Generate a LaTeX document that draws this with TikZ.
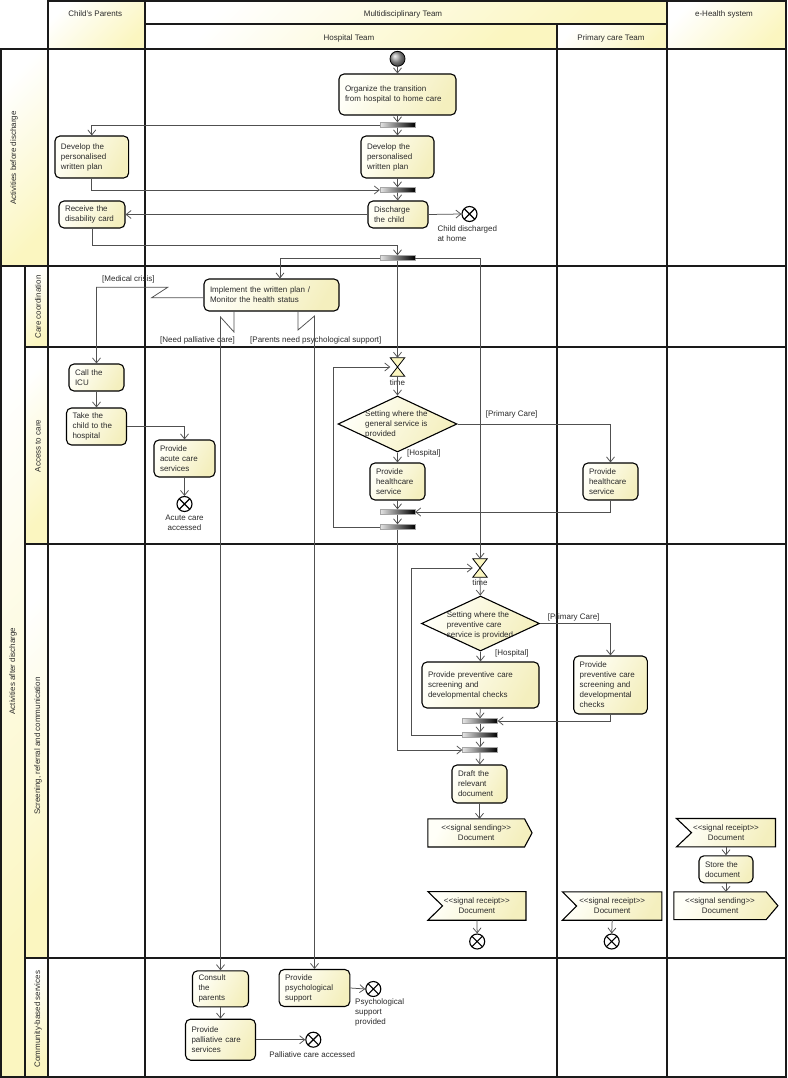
\documentclass[tikz,border=0pt]{standalone}
\usepackage{fontspec}
\setmainfont{Liberation Sans}
\usetikzlibrary{arrows.meta,shapes.geometric,backgrounds,calc}
\definecolor{txt}{HTML}{2B2B2B}
\definecolor{flowc}{HTML}{505050}
\definecolor{lanec}{HTML}{1A1A1A}
\definecolor{hy}{HTML}{FBF6C0}
\definecolor{ay}{HTML}{F4EFBE}
\definecolor{ayl}{HTML}{FFFFF8}
\tikzset{
  base/.style={font=\fontsize{8}{10}\selectfont, text=txt},
  act/.style={base, draw=black, line width=1.1pt, rounded corners=5pt, align=left, inner xsep=6pt, inner ysep=1pt, left color=ayl, right color=ay, shading angle=60},
  bar/.style={draw=gray!70, line width=0.3pt, minimum width=35pt, minimum height=5pt, inner sep=0pt, left color=gray!20, right color=black},
  flow/.style={draw=flowc, line width=0.75pt, -{Straight Barb[length=5pt,width=8pt]}},
  ffinal/.style={circle, draw=black, line width=1.1pt, fill=white, minimum size=15pt, inner sep=0pt,
    path picture={\draw[line width=1.1pt] (path picture bounding box.south west) -- (path picture bounding box.north east) (path picture bounding box.north west) -- (path picture bounding box.south east);}},
  lbl/.style={base, inner sep=0pt},
  hdr/.style={draw=lanec, line width=1.2pt, left color=white, right color=hy, shading angle=45},
  lane/.style={draw=lanec, line width=1.2pt},
  sig/.style={base, align=center, inner sep=0pt},
  sigshape/.style={draw=black, line width=1.1pt, left color=ayl, right color=ay, shading angle=60},
  dec/.style={diamond, draw=black, line width=1.1pt, inner sep=0pt, left color=ayl, right color=ay, shading angle=60},
  hg/.style={inner sep=0pt, minimum width=14pt, minimum height=18pt},
  hgshape/.style={draw=black, line width=0.8pt, fill=hy},
}
\begin{document}
\begin{tikzpicture}[x=1pt,y=-1pt]
\useasboundingbox (0,0) rectangle (787,1078);
\begin{scope}[on background layer]
\fill[white] (0,0) rectangle (787,1078);
\end{scope}

% ---------- swimlane frame ----------
\draw[hdr] (48,1) rectangle (145,49);
\draw[hdr] (145,1) rectangle (667,24);
\draw[hdr] (145,24) rectangle (557,49);
\draw[hdr] (557,24) rectangle (667,49);
\draw[hdr] (667,1) rectangle (786,49);
\draw[hdr] (1,49) rectangle (48,266);
\draw[hdr] (1,266) rectangle (25,1077);
\draw[hdr] (25,266) rectangle (48,347);
\draw[hdr] (25,347) rectangle (48,544);
\draw[hdr] (25,544) rectangle (48,958);
\draw[hdr] (25,958) rectangle (48,1077);
\draw[lane] (48,49) rectangle (786,1077);
\draw[lane] (145,49) -- (145,1077);
\draw[lane] (557,49) -- (557,1077);
\draw[lane] (667,49) -- (667,1077);
\draw[lane] (48,266) -- (786,266);
\draw[lane] (48,347) -- (786,347);
\draw[lane] (48,544) -- (786,544);
\draw[lane] (48,958) -- (786,958);

\node[lbl] (hpar) at (95.2,14) {Child's Parents};
\node[lbl] (hmul) at (403,14) {Multidisciplinary Team};
\node[lbl] (hhos) at (349,38) {Hospital Team};
\node[lbl] (hpri) at (611,38) {Primary care Team};
\node[lbl] (heh) at (724,14) {e-Health system};
\node[lbl, rotate=90] (rbef) at (14,158) {Activities before discharge};
\node[lbl, rotate=90] (raft) at (13,671) {Activities after discharge};
\node[lbl, rotate=90] (rcc) at (38,307) {Care coordination};
\node[lbl, rotate=90] (rac) at (38,446) {Access to care};
\node[lbl, rotate=90] (rscr) at (38,746) {Screening, referral and communication};
\node[lbl, rotate=90] (rcom) at (38,1019) {Community-based services};

% ---------- before discharge ----------
\node[circle, minimum size=15pt, inner sep=0pt, draw=black, line width=0.8pt, ball color=gray!75] (init) at (397.5,58.8) {};
\node[act, text width=105pt, minimum height=41pt] (org) at (397.5,94.5) {Organize the transition\\from hospital to home care};
\node[bar] (b1) at (397.5,125) {};
\node[act, text width=61.7pt, minimum height=42pt] (pdev) at (91.8,157) {Develop the\\personalised\\written plan};
\node[act, text width=61pt, minimum height=42pt] (hdev) at (397.5,157) {Develop the\\personalised\\written plan};
\node[bar] (b2) at (397.5,190) {};
\node[act, text width=54pt, minimum height=27pt] (recv) at (92,214.5) {Receive the\\disability card};
\node[act, text width=48pt, minimum height=27pt] (disc) at (398,214.5) {Discharge\\the child};
\node[ffinal] (f1) at (469.5,214) {};
\node[lbl, anchor=west, align=left] (lf1) at (437.3,234) {Child discharged\\at home};
\node[bar] (b3) at (397.5,258) {};
\coordinate (j3) at (397.5,245);

\draw[flow] (init) -- (org);
\draw[flow] (org) -- (b1);
\draw[flow] (b1.west) -| (pdev.north);
\draw[flow] (b1) -- (hdev);
\draw[flow] (pdev.south) |- (b2.west);
\draw[flow] (hdev) -- (b2);
\draw[flow] (b2) -- (disc);
\draw[flow] (disc.west) -- (recv.east);
\draw[flow] (disc.east) -- (f1.west);
\draw[flow] (recv.south) |- (j3) -- (b3.north);

% ---------- care coordination ----------
\node[act, text width=123pt, minimum height=32pt] (impl) at (271.5,295) {Implement the written plan /\\Monitor the health status};
\coordinate (mc1) at (151.7,297.7);
\coordinate (mc2) at (167.7,287.3);
\coordinate (pc1) at (234,332);
\coordinate (pc2) at (220.5,317);
\coordinate (ps1) at (298,330);
\coordinate (ps2) at (314.5,316);
\node[lbl, anchor=west] (gmc) at (102,279) {[Medical crisis]};
\node[lbl, anchor=west] (gpc) at (160,340) {[Need palliative care]};
\node[lbl, anchor=west] (gps) at (250,340) {[Parents need psychological support]};

% ---------- access to care ----------
\node[act, text width=43pt, minimum height=27pt] (icu) at (96.5,377.5) {Call the\\ICU};
\node[act, text width=48pt, minimum height=37pt] (take) at (96.5,426.5) {Take the\\child to the\\hospital};
\node[act, text width=49pt, minimum height=37pt] (acute) at (184.5,458.5) {Provide\\acute care\\services};
\node[ffinal] (f2) at (184.5,504) {};
\node[lbl, align=center] (lf2) at (184.5,523) {Acute care\\accessed};

\node[hg] (t1) at (397.5,367) {};
\draw[hgshape] (t1.north west) -- (t1.north east) -- (t1.south west) -- (t1.south east) -- cycle;
\node[lbl] (lt1) at (397.5,383) {time};
\node[dec, minimum width=119pt, minimum height=56pt] (d1) at (397.5,424) {};
\node[lbl, anchor=west, align=left] (td1) at (365,424.5) {Setting where the\\general service is\\provided};
\node[lbl, anchor=west] (gpr1) at (485.7,414) {[Primary Care]};
\node[lbl, anchor=west] (gho1) at (407,453) {[Hospital]};
\node[act, text width=43pt, minimum height=37pt] (hhc) at (397.5,481.5) {Provide\\healthcare\\service};
\node[act, text width=43pt, minimum height=37pt] (phc) at (610.5,481.5) {Provide\\healthcare\\service};
\node[bar] (b4) at (397.5,512) {};
\node[bar] (b5) at (397.5,527) {};
\coordinate (l1) at (333,527);

% ---------- screening ----------
\node[hg] (t2) at (480,568) {};
\draw[hgshape] (t2.north west) -- (t2.north east) -- (t2.south west) -- (t2.south east) -- cycle;
\node[lbl] (lt2) at (480,583) {time};
\node[dec, minimum width=118pt, minimum height=55pt] (d2) at (480.5,623.5) {};
\node[lbl, anchor=west, align=left] (td2) at (446.7,625) {Setting where the\\preventive care\\service is provided};
\node[lbl, anchor=west] (gpr2) at (547.7,617.5) {[Primary Care]};
\node[lbl, anchor=west] (gho2) at (495,653) {[Hospital]};
\node[act, text width=105pt, minimum height=46pt] (hprev) at (480.5,685) {Provide preventive care\\screening and\\developmental checks};
\node[act, text width=61.6pt, minimum height=58pt] (pprev) at (610.5,685) {Provide\\preventive care\\screening and\\developmental\\checks};
\node[bar] (b6) at (480,721) {};
\node[bar] (b7) at (480,735) {};
\node[bar] (b8) at (480,750) {};
\coordinate (l2) at (411,735);
\node[act, text width=43pt, minimum height=38pt] (draft) at (479.5,784) {Draft the\\relevant\\document};

\node[sig, minimum width=96.3pt, minimum height=27.7pt] (snd1) at (476.2,832.9) {<{}<signal sending>{}>\\Document};
\node[sig, minimum width=97.7pt, minimum height=28.3pt] (rcv1) at (476.9,905.9) {<{}<signal receipt>{}>\\Document};
\node[sig, minimum width=99pt, minimum height=28pt] (rcv2) at (612.2,906) {<{}<signal receipt>{}>\\Document};
\node[sig, minimum width=98.6pt, minimum height=28pt] (rcv3) at (726,832.7) {<{}<signal receipt>{}>\\Document};
\node[sig, minimum width=92pt, minimum height=27.3pt] (snd3) at (720,905.7) {<{}<signal sending>{}>\\Document};
\begin{scope}[on background layer]
\draw[sigshape] (snd1.north west) -- (snd1.north east) -- ($(snd1.east)+(7.5,0)$) -- (snd1.south east) -- (snd1.south west) -- cycle;
\draw[sigshape] (snd3.north west) -- (snd3.north east) -- ($(snd3.east)+(11.7,0)$) -- (snd3.south east) -- (snd3.south west) -- cycle;
\draw[sigshape] (rcv1.north west) -- (rcv1.north east) -- (rcv1.south east) -- (rcv1.south west) -- ($(rcv1.west)+(14.7,0)$) -- cycle;
\draw[sigshape] (rcv2.north west) -- (rcv2.north east) -- (rcv2.south east) -- (rcv2.south west) -- ($(rcv2.west)+(14,0)$) -- cycle;
\draw[sigshape] (rcv3.north west) -- (rcv3.north east) -- (rcv3.south east) -- (rcv3.south west) -- ($(rcv3.west)+(15,0)$) -- cycle;
\end{scope}
\node[act, text width=42pt, minimum height=27pt] (store) at (726,869.3) {Store the\\document};
\node[ffinal] (f3) at (477.2,941.5) {};
\node[ffinal] (f4) at (611.7,941.5) {};

% ---------- community ----------
\node[act, text width=44pt, minimum height=36pt] (consult) at (220.5,988.8) {Consult\\the\\parents};
\node[act, text width=58pt, minimum height=41pt] (pall) at (220.5,1039.7) {Provide\\palliative care\\services};
\node[act, text width=58.7pt, minimum height=37pt] (psych) at (314.5,988) {Provide\\psychological\\support};
\node[ffinal] (f5) at (313.3,1039.7) {};
\node[ffinal] (f6) at (373.3,989) {};
\node[lbl] (lf5) at (312.3,1054.3) {Palliative care accessed};
\node[lbl, anchor=west, align=left] (lf6) at (355,1012.8) {Psychological\\support\\provided};

% ---------- flows after discharge ----------
\draw[flow] (b3.west) -| ([xshift=8.5pt]impl.north);
\draw[flow] (b3) -- (t1);
\draw[flow] (b3.east) -| (t2.north);
\draw[flow] ([yshift=-2.7pt]impl.west) -- (mc1) -- (mc2) -| (icu.north);
\draw[flow] ([xshift=-37.5pt]impl.south) -- (pc1) -- (pc2) -- (consult.north);
\draw[flow] ([xshift=26.5pt]impl.south) -- (ps1) -- (ps2) -- (psych.north);

\draw[flow] (icu) -- (take);
\draw[flow] (take.east) -| (acute.north);
\draw[flow] (acute) -- (f2);

\draw[flow] (t1) -- (d1);
\draw[flow] (d1.east) -| (phc.north);
\draw[flow] (d1) -- (hhc);
\draw[flow] (hhc) -- (b4);
\draw[flow] (phc.south) |- (b4.east);
\draw[flow] (b4) -- (b5);
\draw[flow] (b5.west) -- (l1) |- (t1.west);
\draw[flow] (b5.south) |- (b8.west);

\draw[flow] (t2) -- (d2);
\draw[flow] (d2.east) -| (pprev.north);
\draw[flow] (d2) -- (hprev);
\draw[flow] (hprev) -- (b6);
\draw[flow] (pprev.south) |- (b6.east);
\draw[flow] (b6) -- (b7);
\draw[flow] (b7.west) -- (l2) |- (t2.west);
\draw[flow] (b7) -- (b8);
\draw[flow] (b8) -- (draft);
\draw[flow] (draft.south) -- (draft.south |- snd1.north);
\draw[flow] (rcv1.south) -- (f3.north);
\draw[flow] (rcv2.south) -- (f4.north);
\draw[flow] (rcv3.south) -- (store.north);
\draw[flow] (store.south) -- (store.south |- snd3.north);

\draw[flow] (consult) -- (pall);
\draw[flow] (pall.east) -- (f5.west);
\draw[flow] (psych.east) -- (f6.west);
\end{tikzpicture}
\end{document}
